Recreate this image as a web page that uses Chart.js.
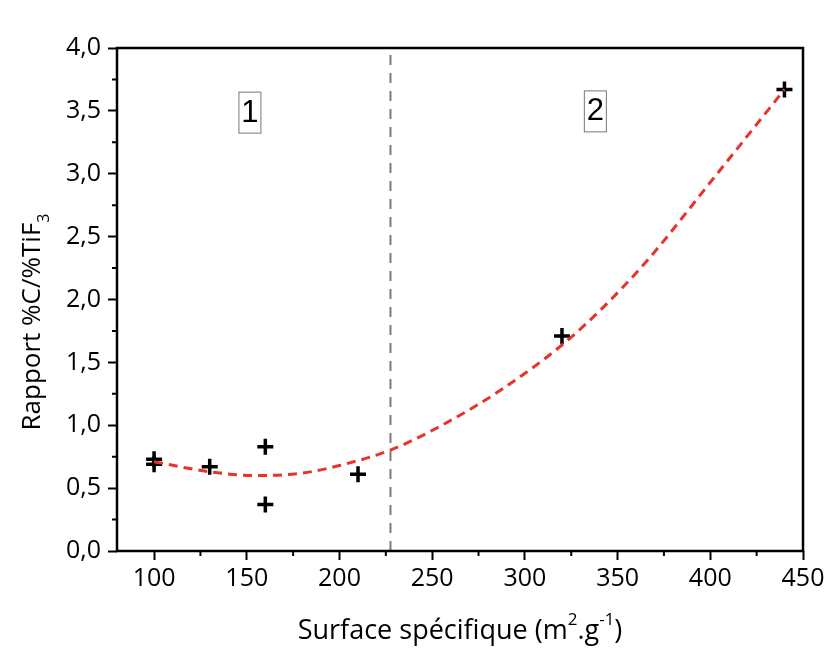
<!DOCTYPE html>
<html>
<head>
<meta charset="utf-8">
<script src="https://cdn.jsdelivr.net/npm/chart.js@4"></script>
<style>
  html, body { margin: 0; padding: 0; background: #fff; }
  #wrap { width: 829px; height: 666px; }
</style>
</head>
<body>
<div id="wrap"><canvas id="myChart" width="829" height="666"></canvas></div>
<script>
// mesures (surface spécifique, rapport %C/%TiF3)
var surface = [100, 100, 130, 160, 160, 210, 320, 440];
var rapport = [0.73, 0.69, 0.67, 0.83, 0.37, 0.61, 1.71, 3.67];

// courbe d'ajustement
var fitX = [100, 130, 155, 180, 200, 227, 254, 287, 321, 341, 366, 401, 440];
var fitY = [0.71, 0.63, 0.60, 0.62, 0.68, 0.80, 0.99, 1.28, 1.65, 1.92, 2.31, 2.95, 3.67];

// limite entre les domaines 1 et 2
var limiteX = 227.5;
var limiteY = [0, 4];

var zoneLabels = ['1', '2'];
var zoneX = [151.7, 338];
var zoneY = [3.49, 3.5];

var xTicks = [100, 150, 200, 250, 300, 350, 400, 450];
var xMinor = [125, 175, 225, 275, 325, 375, 425];
var yTicks = [0, 0.5, 1, 1.5, 2, 2.5, 3, 3.5, 4];
var yMinor = [0.25, 0.75, 1.25, 1.75, 2.25, 2.75, 3.25, 3.75];

var FONT = '"Open Sans", sans-serif';

var points = surface.map(function (x, i) { return { x: x, y: rapport[i] }; });
var fit = fitX.map(function (x, i) { return { x: x, y: fitY[i] }; });
var limite = limiteY.map(function (y) { return { x: limiteX, y: y }; });

function drawRich(ctx, parts, cx, cy, rot) {
  ctx.save();
  ctx.translate(cx, cy);
  ctx.rotate(rot);
  ctx.fillStyle = '#000';
  ctx.textBaseline = 'middle';
  ctx.textAlign = 'left';
  var total = 0;
  parts.forEach(function (p) {
    ctx.font = p.size + 'px ' + FONT;
    p.w = ctx.measureText(p.t).width;
    total += p.w;
  });
  var x = -total / 2;
  parts.forEach(function (p) {
    ctx.font = p.size + 'px ' + FONT;
    ctx.fillText(p.t, x, p.dy);
    x += p.w;
  });
  ctx.restore();
}

var decor = {
  id: 'decor',
  afterDraw: function (chart) {
    var ctx = chart.ctx;
    var a = chart.chartArea;
    var sx = chart.scales.x, sy = chart.scales.y;

    // cadre
    ctx.save();
    ctx.strokeStyle = '#000';
    ctx.lineWidth = 2.5;
    ctx.strokeRect(a.left, a.top, a.right - a.left, a.bottom - a.top);

    // graduations secondaires
    ctx.lineWidth = 2;
    ctx.beginPath();
    xMinor.forEach(function (v) {
      var px = sx.getPixelForValue(v);
      ctx.moveTo(px, a.bottom);
      ctx.lineTo(px, a.bottom + 5);
    });
    yMinor.forEach(function (v) {
      var py = sy.getPixelForValue(v);
      ctx.moveTo(a.left, py);
      ctx.lineTo(a.left - 5, py);
    });
    ctx.stroke();

    // étiquettes des zones
    ctx.font = '31px "Liberation Sans", sans-serif';
    ctx.textAlign = 'center';
    ctx.textBaseline = 'middle';
    zoneLabels.forEach(function (t, i) {
      var px = sx.getPixelForValue(zoneX[i]);
      var py = sy.getPixelForValue(zoneY[i]);
      ctx.fillStyle = '#fff';
      ctx.fillRect(px - 11, py - 20, 22, 41);
      ctx.strokeStyle = '#777';
      ctx.lineWidth = 1;
      ctx.strokeRect(px - 11, py - 20, 22, 41);
      ctx.fillStyle = '#000';
      ctx.fillText(t, px, py + 1);
    });
    ctx.restore();

    // titres des axes
    drawRich(ctx, [
      { t: 'Rapport %C/%TiF', size: 26, dy: 0 },
      { t: '3', size: 16, dy: 11 }
    ], 33, 322, -Math.PI / 2);
    drawRich(ctx, [
      { t: 'Surface sp\u00e9cifique (m', size: 27, dy: 0 },
      { t: '2', size: 17, dy: -11 },
      { t: '.g', size: 27, dy: 0 },
      { t: '-1', size: 17, dy: -11 },
      { t: ')', size: 27, dy: 0 }
    ], (a.left + a.right) / 2, 631, 0);
  }
};

var ctx = document.getElementById('myChart').getContext('2d');

var chart = new Chart(ctx, {
  type: 'scatter',
  data: {
    datasets: [{
      data: limite,
      type: 'line',
      borderColor: '#7a7a7a',
      borderWidth: 2,
      borderDash: [10, 8],
      pointRadius: 0,
      fill: false
    }, {
      data: fit,
      type: 'line',
      borderColor: '#e8322b',
      borderWidth: 3,
      borderDash: [9, 6],
      pointRadius: 0,
      cubicInterpolationMode: 'monotone',
      fill: false
    }, {
      data: points,
      pointStyle: 'cross',
      pointRadius: 8,
      borderWidth: 3.5,
      borderColor: '#000',
      backgroundColor: '#000'
    }]
  },
  options: {
    responsive: false,
    animation: false,
    layout: { padding: { top: 48, right: 26, left: 0, bottom: 0 } },
    scales: {
      x: {
        type: 'linear',
        min: 80,
        max: 450,
        afterBuildTicks: function (scale) {
          scale.ticks = xTicks.map(function (v) { return { value: v }; });
        },
        afterFit: function (scale) { scale.height = 115; },
        grid: { drawOnChartArea: false, tickLength: 9, tickWidth: 2, tickColor: '#000' },
        border: { display: false },
        ticks: {
          padding: 4,
          color: '#000',
          font: { family: FONT, size: 25 },
          maxRotation: 0
        }
      },
      y: {
        type: 'linear',
        min: 0,
        max: 4,
        afterBuildTicks: function (scale) {
          scale.ticks = yTicks.map(function (v) { return { value: v }; });
        },
        afterFit: function (scale) { scale.width = 117; },
        grid: { drawOnChartArea: false, tickLength: 9, tickWidth: 2, tickColor: '#000' },
        border: { display: false },
        ticks: {
          padding: 7,
          color: '#000',
          font: { family: FONT, size: 25 },
          callback: function (v) { return v.toFixed(1).replace('.', ','); }
        }
      }
    },
    plugins: {
      legend: { display: false },
      tooltip: { enabled: false }
    }
  },
  plugins: [decor]
});
</script>
</body>
</html>
